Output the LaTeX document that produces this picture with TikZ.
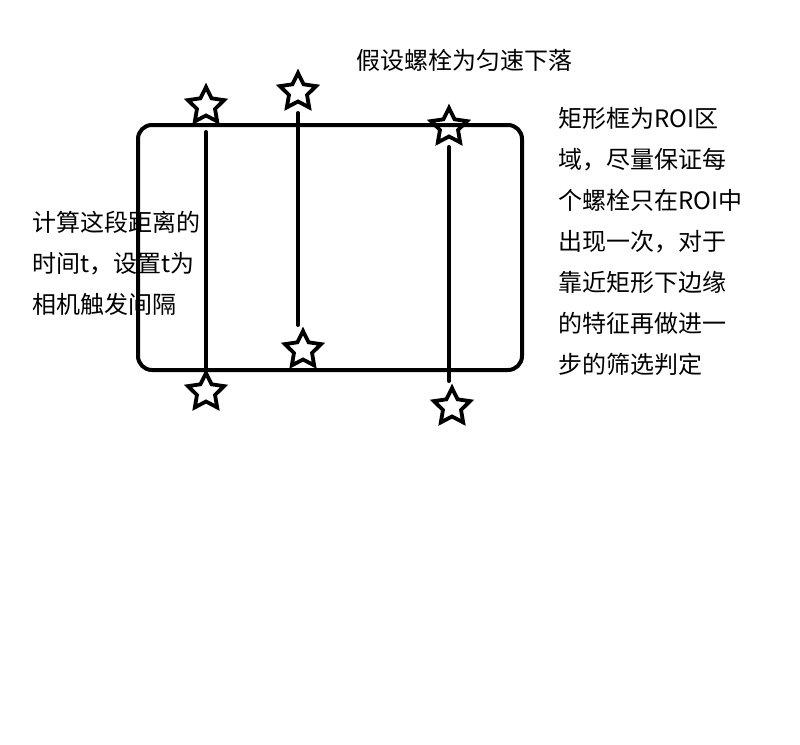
\documentclass[tikz,border=0pt]{standalone}
\usepackage{fontspec}
\setmainfont{Noto Sans CJK SC}
\usetikzlibrary{
  positioning,
  shapes.geometric,
}
\tikzset{
  boltstar/.style={
    star, star points=5, star point ratio=2.0, draw, line width=3.8pt,
    minimum size=38pt, inner sep=0pt
  },
  roibox/.style={draw, line width=4pt, rounded corners=14pt},
  fallline/.style={line width=4pt, line cap=round},
  notetext/.style={
    font=\fontsize{24}{41}\selectfont, align=left, inner sep=0pt,
    anchor=north west
  },
}

\begin{document}
\begin{tikzpicture}[x=1pt, y=-1pt]

  \useasboundingbox[fill=white] (0,0) rectangle (800,744);

  % ── ROI rectangle ──
  \draw[roibox] (138,125) rectangle (522,370);

  % ── Stars ──
  \node[boltstar] (t1) at (206,106) {};
  \node[boltstar] (t2) at (298,92)  {};
  \node[boltstar] (t3) at (449,127) {};
  \node[boltstar] (b1) at (206,392) {};
  \node[boltstar] (b2) at (303,350) {};
  \node[boltstar] (b3) at (452,407) {};

  % ── Falling paths ──
  \draw[fallline, shorten <=26pt, shorten >=20pt] (t1.center) -- (b1.center);
  \draw[fallline, shorten <=21pt, shorten >=25pt] (t2.center) -- (t2 |- b2.center);
  \draw[fallline, shorten <=20pt, shorten >=26pt] (t3.center) -- (t3 |- b3.center);

  % ── Texts ──
  \node[font=\fontsize{24}{28}\selectfont] (title) at (464,60) {假设螺栓为匀速下落};
  \node[notetext] (lnote) at (32,211)
    {计算这段距离的\\时间t，设置t为\\相机触发间隔};
  \node[notetext] (rnote) at (558,107)
    {矩形框为ROI区\\域，尽量保证每\\个螺栓只在ROI中\\出现一次，对于\\靠近矩形下边缘\\的特征再做进一\\步的筛选判定};

\end{tikzpicture}
\end{document}
